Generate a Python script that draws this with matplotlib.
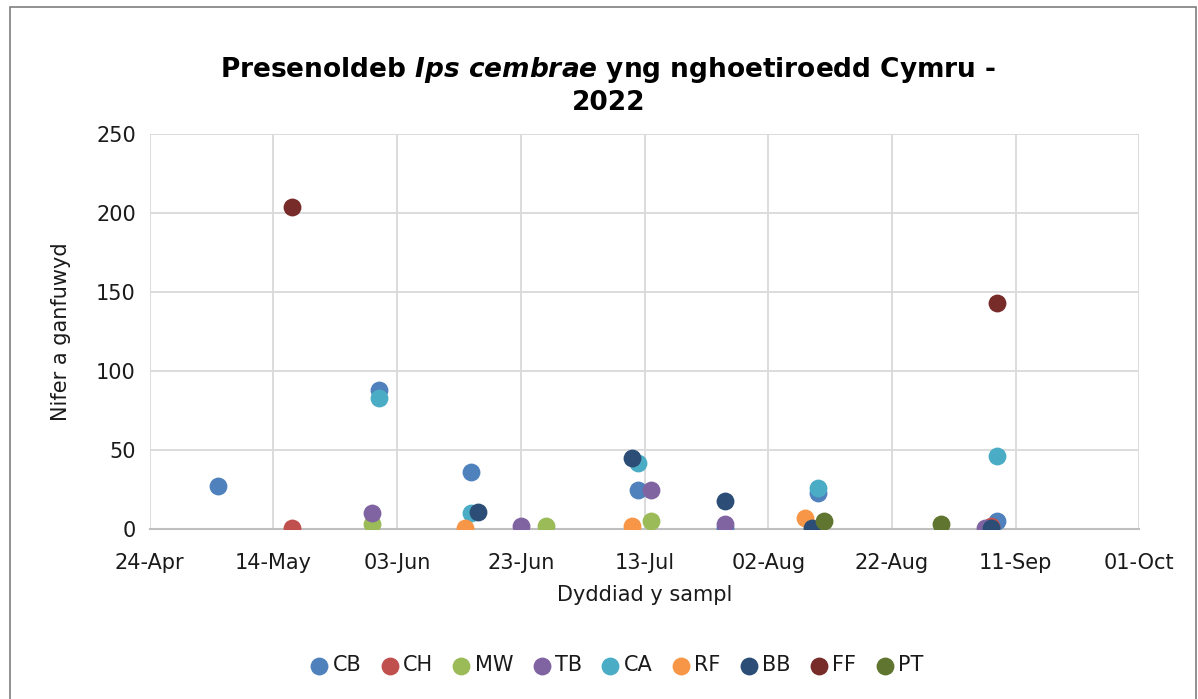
import datetime as dt
import matplotlib
matplotlib.use("Agg")
import matplotlib.pyplot as plt
import matplotlib.dates as mdates
from matplotlib.patches import Rectangle

plt.rcParams['font.family'] = ['DejaVu Sans']
plt.rcParams['mathtext.fontset'] = 'custom'
plt.rcParams['mathtext.bf'] = 'DejaVu Sans:bold'
plt.rcParams['mathtext.it'] = 'DejaVu Sans:italic:bold'
plt.rcParams['mathtext.rm'] = 'DejaVu Sans:bold'


def d(m, day):
    return dt.datetime(2022, m, day)


# sample dates and counts per site
series = ["CB", "CH", "MW", "TB", "CA", "RF", "BB", "FF", "PT"]
colors = ["#4F81BD", "#C0504D", "#9BBB59", "#8064A2", "#4BACC6",
          "#F79646", "#2C4D75", "#772C2A", "#5F7530"]

cb_dates = [d(5, 5), d(5, 31), d(6, 15), d(7, 12), d(7, 26), d(8, 10), d(9, 8)]
cb_vals = [27, 88, 36, 25, 1, 23, 5]
ch_dates = [d(5, 17), d(9, 7)]
ch_vals = [1, 2]
mw_dates = [d(5, 30), d(6, 27), d(7, 14)]
mw_vals = [3, 2, 5]
tb_dates = [d(5, 30), d(6, 23), d(7, 14), d(7, 26), d(9, 6)]
tb_vals = [10, 2, 25, 3, 1]
ca_dates = [d(5, 31), d(6, 15), d(7, 12), d(8, 10), d(9, 8)]
ca_vals = [83, 10, 42, 26, 46]
rf_dates = [d(6, 14), d(7, 11), d(8, 8)]
rf_vals = [1, 2, 7]
bb_dates = [d(6, 16), d(7, 11), d(7, 26), d(8, 9), d(9, 7)]
bb_vals = [11, 45, 18, 1, 1]
ff_dates = [d(5, 17), d(9, 8)]
ff_vals = [204, 143]
pt_dates = [d(8, 11), d(8, 30)]
pt_vals = [5, 3]

all_dates = [cb_dates, ch_dates, mw_dates, tb_dates, ca_dates,
             rf_dates, bb_dates, ff_dates, pt_dates]
all_vals = [cb_vals, ch_vals, mw_vals, tb_vals, ca_vals,
            rf_vals, bb_vals, ff_vals, pt_vals]

txt = "#1A1A1A"

fig = plt.figure(figsize=(11.98, 6.99), dpi=100)
ax = fig.add_axes([0.125, 0.243, 0.826, 0.565])

for name, c, xs, ys in zip(series, colors, all_dates, all_vals):
    ax.scatter(xs, ys, s=165, color=c, label=name, zorder=3, linewidths=0)

start = d(4, 24)
ticks = [start + dt.timedelta(days=20 * i) for i in range(9)]
ax.set_xticks(ticks)
ax.xaxis.set_major_formatter(mdates.DateFormatter('%d-%b'))
ax.set_xlim(ticks[0], ticks[-1])
ax.set_ylim(0, 250)
ax.set_yticks(range(0, 251, 50))

ax.grid(True, color="#D9D9D9", linewidth=1.3, zorder=0)
ax.set_axisbelow(True)
for s in ["top", "right", "left"]:
    ax.spines[s].set_visible(False)
ax.spines["bottom"].set_color("#BFBFBF")
ax.spines["bottom"].set_linewidth(1.5)
ax.tick_params(axis="x", length=0, labelsize=15, colors=txt, pad=17)
ax.tick_params(axis="y", length=0, labelsize=15, colors=txt, pad=10)

ax.set_xlabel("Dyddiad y sampl", fontsize=15, color=txt, labelpad=9)
ax.set_ylabel("Nifer a ganfuwyd", fontsize=15, color=txt, labelpad=18)

fig.text(0.508, 0.9,
         r"$\mathbf{Presenoldeb}\ \mathit{Ips\ cembrae}\ \mathbf{yng\ nghoetiroedd\ Cymru}$ -",
         ha="center", va="center", fontsize=19, fontweight="bold")
fig.text(0.508, 0.853, "2022", ha="center", va="center", fontsize=19,
         fontweight="bold")

leg = fig.legend(loc="center", bbox_to_anchor=(0.513, 0.048), ncol=9,
                 frameon=False, fontsize=15, handletextpad=0.0,
                 columnspacing=0.7, markerscale=1.0, handlelength=1.3)
for t in leg.get_texts():
    t.set_color(txt)

fig.patches.append(Rectangle((0.008, -0.01), 0.99, 1.0, transform=fig.transFigure,
                             fill=False, edgecolor="#7F7F7F", linewidth=1.2))

fig.savefig("out.png", dpi=100)
